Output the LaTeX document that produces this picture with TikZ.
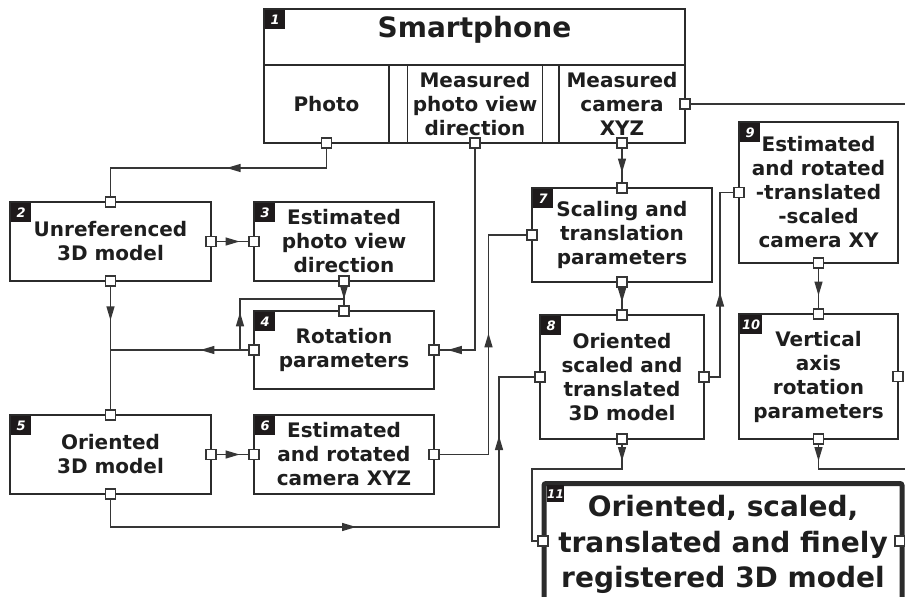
\documentclass[tikz,border=0pt]{standalone}
\usepackage{fontspec}
\setmainfont{DejaVu Sans}
\usetikzlibrary{calc}
\definecolor{boxcol}{HTML}{2B2B2B}
\definecolor{linecol}{HTML}{363636}
\definecolor{txtcol}{HTML}{1E1E1E}
\definecolor{badgecol}{HTML}{1E1A1B}
\newcommand{\arrowtri}{\tikz\fill[linecol] (0pt,0pt) -- (-14pt,4.2pt) -- (-14pt,-4.2pt) -- cycle;}
\tikzset{
 box/.style={draw=boxcol, line width=1.8pt, fill=white, align=center, inner sep=3pt, outer sep=0pt, text=txtcol, font=\bfseries\fontsize{20}{24}\selectfont},
 port/.style={draw=linecol, fill=white, line width=1.2pt, minimum size=10pt, inner sep=0pt, outer sep=0pt},
 conn/.style={draw=linecol, line width=1.5pt},
 ah/.style={sloped, allow upside down, inner sep=0pt, outer sep=0pt},
 badge/.style={fill=badgecol, text=white, anchor=north west, inner sep=0pt, minimum width=20pt, minimum height=19pt, font=\bfseries\itshape\fontsize{13}{13}\selectfont},
}
\begin{document}
\begin{tikzpicture}[x=1pt,y=-1pt]
\useasboundingbox (0,0) rectangle (905,597);
\clip (0,0) rectangle (905,597);
% Box 1: smartphone
\node[box, minimum width=421pt, minimum height=134pt] (b1) at (474.5,76) {};
\draw[boxcol, line width=1.8pt] (264,65) -- (685,65);
\node[box, minimum width=125pt, minimum height=78pt] (ph) at (326.5,104) {Photo};
\node[box, minimum width=135pt, minimum height=78pt] (md) at (475,104) {Measured\\photo view\\direction};
\node[box, minimum width=126pt, minimum height=78pt] (mc) at (622,104) {Measured\\camera\\XYZ};
\node[anchor=base, text=txtcol, font=\bfseries\fontsize{28}{28}\selectfont] (t1) at (474.5,37) {Smartphone};
\node[badge] (n1) at (265,10) {1};
% other boxes
\node[box, minimum width=201pt, minimum height=79pt] (b2) at (110.5,241.5) {Unreferenced\\3D model};
\node[box, minimum width=180pt, minimum height=79pt] (b3) at (344,241.5) {Estimated\\photo view\\direction};
\node[box, minimum width=180pt, minimum height=78pt] (b4) at (344,350) {Rotation\\parameters};
\node[box, minimum width=201pt, minimum height=79pt] (b5) at (110.5,454.5) {Oriented\\3D model};
\node[box, minimum width=180pt, minimum height=79pt] (b6) at (344,454.5) {Estimated\\and rotated\\camera XYZ};
\node[box, minimum width=180pt, minimum height=94pt] (b7) at (622,235) {Scaling and\\translation\\parameters};
\node[box, minimum width=164pt, minimum height=124pt] (b8) at (622,377) {Oriented\\scaled and\\translated\\3D model};
\node[box, minimum width=159pt, minimum height=141pt] (b9) at (818.5,192.5) {Estimated\\and rotated\\-translated\\-scaled\\camera XY};
\node[box, minimum width=159pt, minimum height=125pt] (b10) at (818.5,376.5) {Vertical\\axis\\rotation\\parameters};
\node[box, line width=5pt, rounded corners=2pt, minimum width=358pt, minimum height=122pt, font=\bfseries\fontsize{28}{35.5}\selectfont] (b11) at (723,544.5) {Oriented, scaled,\\translated and finely\\registered 3D model};
% badges
\node[badge] (n2) at ([shift={(1,1)}]b2.north west) {2};
\node[badge] (n3) at ([shift={(1,1)}]b3.north west) {3};
\node[badge] (n4) at ([shift={(1,1)}]b4.north west) {4};
\node[badge] (n5) at ([shift={(1,1)}]b5.north west) {5};
\node[badge] (n6) at ([shift={(1,1)}]b6.north west) {6};
\node[badge] (n7) at ([shift={(1,1)}]b7.north west) {7};
\node[badge] (n8) at ([shift={(1,1)}]b8.north west) {8};
\node[badge] (n9) at ([shift={(1,1)}]b9.north west) {9};
\node[badge, minimum width=22pt] (n10) at ([shift={(1,1)}]b10.north west) {10};
\node[badge, minimum width=16pt, minimum height=17pt, font=\bfseries\itshape\fontsize{12}{12}\selectfont] (n11) at (547,485) {11};
% ports
\node[port] (pPh) at (ph.south) {};
\node[port] (pMd) at (md.south) {};
\node[port] (pMcB) at (mc.south) {};
\node[port] (pMcR) at (mc.east) {};
\node[port] (p2t) at (b2.north) {};
\node[port] (p2r) at (b2.east) {};
\node[port] (p2b) at (b2.south) {};
\node[port] (p3l) at (b3.west) {};
\node[port] (p3b) at (b3.south) {};
\node[port] (p4t) at (b4.north) {};
\node[port] (p4l) at (b4.west) {};
\node[port] (p4r) at (b4.east) {};
\node[port] (p5t) at (b5.north) {};
\node[port] (p5r) at (b5.east) {};
\node[port] (p5b) at (b5.south) {};
\node[port] (p6l) at (b6.west) {};
\node[port] (p6r) at (b6.east) {};
\node[port] (p7t) at (b7.north) {};
\node[port] (p7l) at (b7.west) {};
\node[port] (p7b) at (b7.south) {};
\node[port] (p8t) at (b8.north) {};
\node[port] (p8l) at (b8.west) {};
\node[port] (p8r) at (b8.east) {};
\node[port] (p8b) at (b8.south) {};
\node[port] (p9l) at (b9.west) {};
\node[port] (p9b) at (b9.south) {};
\node[port] (p10t) at (b10.north) {};
\node[port] (p10r) at (b10.east) {};
\node[port] (p10b) at (b10.south) {};
\node[port] (p11l) at (543,541) {};
\node[port] (p11r) at (900,541) {};
% helper coordinates
\coordinate (j4) at (p2b.south |- p4l.west);
\coordinate (j3) at (344,299);
\coordinate (j8) at ([xshift=-36pt]p8l.west);
\coordinate (e1) at (912,104);
\coordinate (e2) at (912,469);
% connectors
\draw[conn] (pPh.south) -- ++(0,20) -| node[ah,pos=0.215]{\arrowtri} (p2t.north);
\draw[conn] (p2r.east) -- node[ah]{\arrowtri} (p3l.west);
\draw[conn] (p3b.south) -- node[ah,pos=0.3]{\arrowtri} (p4t.north);
\draw[conn] (p4l.west) -- node[ah,pos=0.3]{\arrowtri} (j4);
\draw[conn] (p4l.west) -- ++(-9,0) |- node[ah,pos=0.3]{\arrowtri} (j3);
\draw[conn] (p2b.south) -- node[ah,pos=0.22]{\arrowtri} (p5t.north);
\draw[conn] (pMd.south) |- node[ah,pos=0.78]{\arrowtri} (p4r.east);
\draw[conn] (p5r.east) -- node[ah]{\arrowtri} (p6l.west);
\draw[conn] (p6r.east) -- ++(49.5,0) |- node[ah,pos=0.26]{\arrowtri} (p7l.west);
\draw[conn] (pMcB.south) -- node[ah]{\arrowtri} (p7t.north);
\draw[conn] (p7b.south) -- node[ah,pos=0.35]{\arrowtri} (p8t.north);
\draw[conn] (p5b.south) -- ++(0,28) -| node[ah,pos=0.307]{\arrowtri} node[ah,pos=0.78]{\arrowtri} (j8) -- (p8l.west);
\draw[conn] (p8r.east) -- ++(11,0) |- node[ah,pos=0.21]{\arrowtri} (p9l.west);
\draw[conn] (p9b.south) -- node[ah]{\arrowtri} (p10t.north);
\draw[conn] (p8b.south) -- node[ah,pos=0.4]{\arrowtri} ++(0,25) -| ([xshift=-6pt]p11l.west) -- (p11l.west);
\draw[conn] (p10b.south) -- node[ah,pos=0.4]{\arrowtri} ++(0,25) -- (e2);
\draw[conn] (pMcR.east) -- (e1);
\end{tikzpicture}
\end{document}
